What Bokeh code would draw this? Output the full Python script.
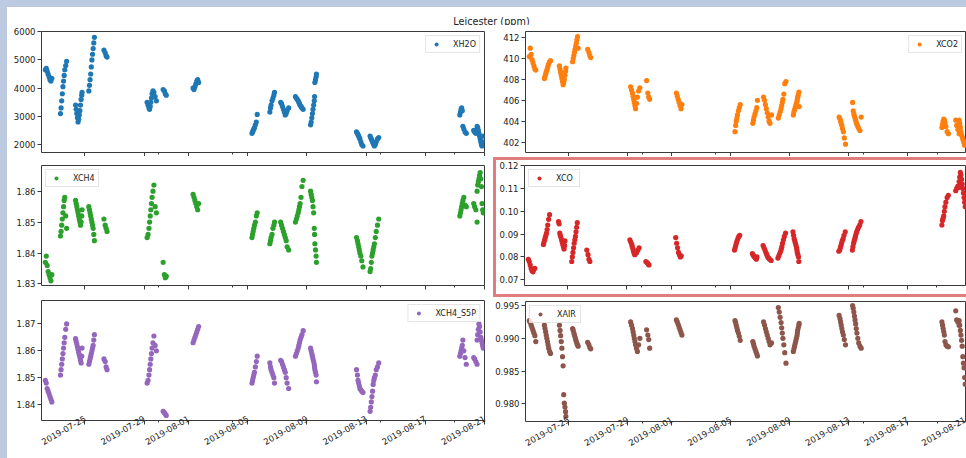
import math
import pandas as pd
from bokeh.plotting import figure
from bokeh.layouts import column, row
from bokeh.models import (Range1d, FixedTicker, PrintfTickFormatter, DatetimeTickFormatter,
                          Legend, LegendItem, Label, Spacer)
from bokeh.embed import file_html
from bokeh.resources import INLINE

FONT = "DejaVu Sans"

# ---------------- data ----------------
title_text = "Leicester (ppm)"
x_start = "2019-07-22 01:45"
x_end = "2019-08-21 00:01"
x_major_ticks = ["2019-07-25", "2019-07-29", "2019-08-01", "2019-08-05",
                 "2019-08-09", "2019-08-13", "2019-08-17", "2019-08-21"]
x_minor_ticks = ["2019-07-30", "2019-08-04", "2019-08-14", "2019-08-19"]

cluster_days = ["2019-07-22", "2019-07-23", "2019-07-24", "2019-07-25", "2019-07-26",
                "2019-07-29", "2019-07-30", "2019-08-01", "2019-08-05", "2019-08-06",
                "2019-08-07", "2019-08-08", "2019-08-09", "2019-08-12", "2019-08-13",
                "2019-08-19", "2019-08-20", "2019-08-20"]
cluster_hours = [
    [8.0, 9.5, 11.0, 12.5, 14.0, 15.5, 17.0, 18.5],
    [8.5, 9.5, 10.5, 11.5, 12.5, 13.5, 14.5, 15.5, 17.0, 18.5],
    [9.0, 10.0, 11.0, 12.0, 13.0, 14.0, 15.0, 16.0, 17.0, 18.0, 19.0, 19.5],
    [6.5, 7.5, 8.5, 9.5, 10.5, 11.5, 12.5, 13.5, 14.5, 15.5],
    [7.0, 9.0, 10.5, 12.0],
    [5.0, 6.5, 8.0, 9.0, 10.0, 11.0, 12.0, 13.0, 14.5, 16.0, 18.0, 20.0],
    [7.0, 9.0, 10.5, 12.0],
    [7.5, 9.0, 10.5, 12.0, 13.5, 15.0, 16.5],
    [7.0, 8.0, 9.0, 10.0, 11.0, 12.5, 14.0, 15.5],
    [12.0, 13.0, 14.0, 15.5, 17.0, 18.5, 19.5],
    [5.5, 7.0, 8.5, 10.0, 11.5, 13.0, 14.5, 16.0, 18.5],
    [5.5, 7.0, 8.5, 10.0, 11.0, 12.0, 13.0, 14.5, 16.0, 18.0],
    [6.0, 7.0, 8.0, 9.0, 10.0, 11.0, 12.0, 12.5, 13.0, 14.0, 15.0, 15.5],
    [8.5, 10.0, 11.0, 12.0, 13.0, 14.0, 15.5, 17.0, 19.0],
    [6.5, 7.5, 8.5, 9.5, 10.5, 11.5, 12.5, 13.5, 15.0, 16.5, 18.5, 20.5],
    [8.0, 9.0, 10.0, 11.0, 12.0, 13.0, 14.5, 16.5, 18.5],
    [6.5, 8.0, 10.0, 12.0],
    [12.0, 13.0, 14.0, 15.0, 16.0, 17.0, 18.0, 19.0, 20.0, 21.0, 22.0],
]

xh2o = [
    [4650, 4700, 4600, 4500, 4400, 4300, 4250, 4350],
    [3100, 3300, 3550, 3800, 4050, 4250, 4450, 4650, 4800, 4950],
    [3400, 3250, 3100, 2950, 2800, 2900, 3050, 3200, 3400, 3600, 3750, 3850],
    [3900, 4100, 4300, 4500, 4750, 5000, 5200, 5400, 5600, 5800],
    [5350, 5250, 5150, 5100],
    [3500, 3400, 3300, 3250, 3350, 3500, 3650, 3800, 3900, 3850, 3700, 3550],
    [3950, 3900, 3800, 3750],
    [4000, 3950, 4050, 4150, 4250, 4300, 4200],
    [2400, 2450, 2500, 2550, 2600, 2700, 2800, 3070],
    [3150, 3300, 3400, 3550, 3650, 3750, 3850],
    [3500, 3450, 3350, 3250, 3150, 3050, 3100, 3200, 3300],
    [3700, 3650, 3600, 3550, 3500, 3450, 3400, 3350, 3300, 3250],
    [2700, 2800, 2950, 3100, 3250, 3400, 3550, 3700, 4200, 4300, 4400, 4500],
    [2450, 2400, 2350, 2300, 2250, 2200, 2100, 2000, 1950],
    [2300, 2250, 2200, 2150, 2100, 2050, 2000, 1950, 2000, 2100, 2200, 2250],
    [3050, 3150, 3250, 3300, 3200, 2650, 2550, 2450, 2400],
    [2500, 2450, 2400, 2450],
    [2650, 2600, 2500, 2400, 2300, 2200, 2100, 2000, 1950, 2100, 2300],
]
xco2 = [
    [410.2, 411.0, 410.4, 409.9, 409.6, 409.3, 409.0, 408.9],
    [408.1, 408.3, 408.5, 408.7, 408.9, 409.1, 409.3, 409.5, 409.7, 409.8],
    [409.3, 409.0, 408.7, 408.4, 408.1, 407.8, 407.5, 407.7, 408.0, 408.4, 408.8, 409.1],
    [409.7, 410.0, 410.3, 410.6, 410.9, 411.2, 411.5, 411.8, 412.1, 411.0],
    [410.9, 410.6, 410.3, 410.1],
    [407.3, 407.0, 406.7, 406.4, 406.1, 405.8, 405.5, 405.2, 405.7, 406.3, 406.9, 407.2],
    [407.9, 406.7, 406.3, 406.1],
    [406.7, 406.4, 406.1, 405.8, 405.5, 405.2, 405.6],
    [403.0, 403.6, 404.0, 404.3, 404.6, 405.0, 405.3, 405.6],
    [403.8, 404.1, 404.4, 404.7, 405.0, 405.3, 406.0],
    [406.3, 406.0, 405.6, 405.2, 404.8, 404.4, 404.0, 403.8, 404.6],
    [404.3, 404.6, 404.9, 405.2, 405.5, 405.8, 406.1, 406.6, 407.6, 407.8],
    [404.6, 404.9, 405.1, 405.3, 405.5, 405.7, 405.9, 406.1, 406.3, 406.5, 406.8, 405.4],
    [404.4, 404.2, 404.0, 403.8, 403.6, 403.3, 403.0, 402.4, 401.8],
    [405.8, 405.0, 404.7, 404.5, 404.3, 404.1, 403.9, 403.7, 403.5, 403.3, 403.1, 404.4],
    [403.4, 403.7, 404.0, 404.2, 404.1, 403.9, 403.5, 403.0, 402.8],
    [404.1, 403.6, 403.2, 402.8],
    [404.1, 403.8, 403.4, 403.0, 402.7, 402.5, 402.3, 402.1, 401.9, 401.7, 402.0],
]
xch4 = [
    [1.837, 1.839, 1.836, 1.834, 1.833, 1.832, 1.831, 1.833],
    [1.8455, 1.847, 1.849, 1.851, 1.853, 1.855, 1.857, 1.858, 1.852, 1.848],
    [1.857, 1.856, 1.855, 1.854, 1.853, 1.852, 1.851, 1.850, 1.849, 1.850, 1.852, 1.854],
    [1.855, 1.854, 1.853, 1.852, 1.851, 1.850, 1.849, 1.848, 1.846, 1.844],
    [1.851, 1.849, 1.848, 1.847],
    [1.845, 1.846, 1.848, 1.850, 1.852, 1.854, 1.856, 1.858, 1.860, 1.862, 1.855, 1.853],
    [1.837, 1.833, 1.832, 1.8325],
    [1.859, 1.858, 1.857, 1.856, 1.855, 1.854, 1.856],
    [1.845, 1.846, 1.847, 1.848, 1.849, 1.850, 1.852, 1.853],
    [1.843, 1.844, 1.845, 1.846, 1.848, 1.849, 1.850],
    [1.850, 1.849, 1.848, 1.847, 1.846, 1.845, 1.844, 1.842, 1.841],
    [1.850, 1.851, 1.852, 1.853, 1.854, 1.855, 1.856, 1.858, 1.8615, 1.8635],
    [1.860, 1.859, 1.858, 1.857, 1.855, 1.853, 1.848, 1.846, 1.843, 1.841, 1.839, 1.837],
    [1.845, 1.844, 1.843, 1.842, 1.841, 1.840, 1.839, 1.8375, 1.8355],
    [1.834, 1.835, 1.837, 1.839, 1.840, 1.841, 1.842, 1.843, 1.845, 1.847, 1.849, 1.851],
    [1.852, 1.853, 1.854, 1.855, 1.856, 1.857, 1.858, 1.8555, 1.855],
    [1.856, 1.855, 1.854, 1.850],
    [1.860, 1.862, 1.863, 1.864, 1.865, 1.866, 1.864, 1.8615, 1.856, 1.854, 1.853],
]
xco = [
    [0.0790, 0.0780, 0.0765, 0.0750, 0.0740, 0.0735, 0.0745, 0.0750],
    [0.0855, 0.0865, 0.0875, 0.0885, 0.0895, 0.0905, 0.0920, 0.0940, 0.0965, 0.0985],
    [0.0955, 0.0945, 0.0905, 0.0895, 0.0885, 0.0875, 0.0865, 0.0855, 0.0845, 0.0835, 0.0850, 0.0870],
    [0.0780, 0.0800, 0.0820, 0.0840, 0.0860, 0.0875, 0.0890, 0.0910, 0.0930, 0.0950],
    [0.0830, 0.0810, 0.0790, 0.0780],
    [0.0875, 0.0865, 0.0855, 0.0845, 0.0835, 0.0825, 0.0815, 0.0810, 0.0815, 0.0820, 0.0830, 0.0840],
    [0.0780, 0.0775, 0.0770, 0.0765],
    [0.0885, 0.0860, 0.0840, 0.0820, 0.0810, 0.0800, 0.0805],
    [0.0830, 0.0840, 0.0850, 0.0860, 0.0870, 0.0880, 0.0890, 0.0895],
    [0.0815, 0.0810, 0.0805, 0.0800, 0.0795, 0.0790, 0.0800],
    [0.0850, 0.0840, 0.0830, 0.0820, 0.0810, 0.0800, 0.0795, 0.0790, 0.0785],
    [0.0795, 0.0805, 0.0815, 0.0825, 0.0835, 0.0845, 0.0860, 0.0875, 0.0890, 0.0905],
    [0.0910, 0.0895, 0.0880, 0.0870, 0.0860, 0.0850, 0.0840, 0.0830, 0.0820, 0.0810, 0.0800, 0.0780],
    [0.0825, 0.0830, 0.0840, 0.0850, 0.0860, 0.0870, 0.0880, 0.0895, 0.0910],
    [0.0830, 0.0845, 0.0860, 0.0870, 0.0880, 0.0890, 0.0900, 0.0910, 0.0920, 0.0930, 0.0940, 0.0955],
    [0.0940, 0.0960, 0.0970, 0.0980, 0.1000, 0.1020, 0.1040, 0.1060, 0.1070],
    [0.1090, 0.1100, 0.1110, 0.1105],
    [0.1130, 0.1150, 0.1170, 0.1160, 0.1140, 0.1120, 0.1100, 0.1080, 0.1060, 0.1040, 0.1020],
]
xch4_s5p = [
    [1.849, 1.848, 1.846, 1.845, 1.844, 1.843, 1.842, 1.841],
    [1.851, 1.853, 1.855, 1.857, 1.859, 1.861, 1.863, 1.865, 1.868, 1.870],
    [1.8645, 1.8635, 1.8625, 1.8615, 1.8605, 1.8595, 1.8585, 1.8575, 1.8565, 1.8555, 1.8580, 1.8610],
    [1.855, 1.856, 1.857, 1.858, 1.859, 1.860, 1.861, 1.862, 1.864, 1.866],
    [1.857, 1.856, 1.854, 1.853],
    [1.848, 1.849, 1.851, 1.853, 1.855, 1.857, 1.859, 1.861, 1.863, 1.8655, 1.862, 1.860],
    [1.8375, 1.8370, 1.8365, 1.8360],
    [1.863, 1.864, 1.865, 1.866, 1.867, 1.868, 1.869],
    [1.848, 1.849, 1.850, 1.851, 1.852, 1.854, 1.856, 1.858],
    [1.8555, 1.854, 1.853, 1.852, 1.851, 1.850, 1.848],
    [1.8565, 1.856, 1.855, 1.854, 1.853, 1.852, 1.850, 1.848, 1.846],
    [1.858, 1.859, 1.860, 1.861, 1.862, 1.863, 1.864, 1.865, 1.866, 1.8675],
    [1.861, 1.860, 1.859, 1.858, 1.857, 1.856, 1.855, 1.854, 1.853, 1.852, 1.851, 1.8485],
    [1.853, 1.851, 1.849, 1.848, 1.847, 1.846, 1.8455, 1.845, 1.8445],
    [1.8375, 1.839, 1.841, 1.843, 1.845, 1.8475, 1.849, 1.850, 1.851, 1.853, 1.854, 1.8555],
    [1.858, 1.859, 1.860, 1.861, 1.862, 1.864, 1.860, 1.8575, 1.855],
    [1.8575, 1.857, 1.856, 1.855],
    [1.864, 1.866, 1.868, 1.870, 1.869, 1.867, 1.865, 1.864, 1.863, 1.862, 1.861],
]
xair = [
    [0.9927, 0.9924, 0.9920, 0.9916, 0.9912, 0.9908, 0.9904, 0.9895],
    [0.9920, 0.9915, 0.9910, 0.9905, 0.9900, 0.9895, 0.9890, 0.9885, 0.9880, 0.9877],
    [0.9920, 0.9912, 0.9904, 0.9895, 0.9885, 0.9872, 0.9858, 0.9814, 0.9801, 0.9795, 0.9788, 0.9781],
    [0.9915, 0.9912, 0.9908, 0.9905, 0.9902, 0.9898, 0.9895, 0.9892, 0.9890, 0.9888],
    [0.9894, 0.9890, 0.9886, 0.9884],
    [0.9925, 0.9920, 0.9915, 0.9910, 0.9905, 0.9900, 0.9895, 0.9890, 0.9885, 0.9880, 0.9890, 0.9900],
    [0.9913, 0.9905, 0.9898, 0.9885],
    [0.9928, 0.9925, 0.9921, 0.9917, 0.9913, 0.9909, 0.9905],
    [0.9927, 0.9924, 0.9920, 0.9916, 0.9912, 0.9908, 0.9903, 0.9897],
    [0.9895, 0.9892, 0.9888, 0.9884, 0.9880, 0.9876, 0.9873],
    [0.9925, 0.9920, 0.9915, 0.9910, 0.9905, 0.9900, 0.9895, 0.9890, 0.9893],
    [0.9947, 0.9940, 0.9932, 0.9924, 0.9916, 0.9908, 0.9900, 0.9890, 0.9878, 0.9862],
    [0.9880, 0.9884, 0.9888, 0.9892, 0.9896, 0.9900, 0.9904, 0.9908, 0.9912, 0.9916, 0.9920, 0.9923],
    [0.9935, 0.9930, 0.9925, 0.9920, 0.9915, 0.9910, 0.9905, 0.9898, 0.9890],
    [0.9950, 0.9946, 0.9940, 0.9934, 0.9928, 0.9922, 0.9915, 0.9908, 0.9900, 0.9893, 0.9888, 0.9885],
    [0.9925, 0.9920, 0.9915, 0.9910, 0.9905, 0.9895, 0.9890, 0.9888, 0.9887],
    [0.9942, 0.9928, 0.9925, 0.9920],
    [0.9927, 0.9920, 0.9912, 0.9905, 0.9897, 0.9888, 0.9872, 0.9862, 0.9855, 0.9840, 0.9830],
]

series_names = ["XH2O", "XCO2", "XCH4", "XCO", "XCH4_S5P", "XAIR"]
series_colors = ["#1f77b4", "#ff7f0e", "#2ca02c", "#d62728", "#9467bd", "#8c564b"]
series_values = [xh2o, xco2, xch4, xco, xch4_s5p, xair]
y_limits = [(1720, 6005), (401.0, 412.6), (1.8295, 1.8683),
            (0.0675, 0.12005), (1.8341, 1.8787), (0.9773, 0.99562)]
y_ticks = [[2000, 3000, 4000, 5000, 6000],
           [402, 404, 406, 408, 410, 412],
           [1.83, 1.84, 1.85, 1.86],
           [0.07, 0.08, 0.09, 0.10, 0.11, 0.12],
           [1.84, 1.85, 1.86, 1.87],
           [0.980, 0.985, 0.990, 0.995]]
y_formats = ["%d", "%d", "%.2f", "%.2f", "%.2f", "%.3f"]
legend_corner = ["top_right", "top_right", "top_left", "top_left", "top_right", "top_left"]

# ---------------- build ----------------
times = []
for day, hrs in zip(cluster_days, cluster_hours):
    for h in hrs:
        times.append(pd.Timestamp(day) + pd.Timedelta(hours=h))


def flat(nested):
    for grp, hrs in zip(nested, cluster_hours):
        assert len(grp) == len(hrs)
    return [v for grp in nested for v in grp]


def ms(s):
    return pd.Timestamp(s).value / 1e6


x_range = Range1d(start=pd.Timestamp(x_start), end=pd.Timestamp(x_end))
fmt = "%Y-%m-%d"
date_fmt = DatetimeTickFormatter(microseconds=fmt, milliseconds=fmt, seconds=fmt, minsec=fmt,
                                 minutes=fmt, hourmin=fmt, hours=fmt, days=fmt, months=fmt, years=fmt)

AX_COLOR = "#3a3a3a"
BLUE = "#bccbe2"
RED = "#e27d7d"

# geometry of each panel: (width, height, border left, right, top, bottom)
GEOM = [
    (485, 131, 34, 8, 6, 4),   # XH2O
    (474, 131, 31, 0, 6, 4),   # XCO2
    (485, 142, 34, 8, 9, 13),  # XCH4
    (470, 134, 27, 0, 5, 9),   # XCO (inside the highlight frame)
    (485, 160, 34, 8, 2, 38),  # XCH4_S5P
    (474, 160, 31, 0, 3, 37),  # XAIR
]


def swatch(w, h, color=None):
    if color is None:
        return Spacer(width=w, height=h)
    return Spacer(width=w, height=h, styles={"background-color": color})


def make_panel(i):
    r_idx = i // 2
    w, h, bl, br, bt, bb = GEOM[i]
    p = figure(width=w, height=h, x_axis_type="datetime", title=None,
               x_range=x_range, y_range=Range1d(*y_limits[i]),
               output_backend="svg", toolbar_location=None, min_border=0,
               min_border_left=bl, min_border_right=br,
               min_border_top=bt, min_border_bottom=bb)
    p.background_fill_color = "white"
    p.border_fill_color = "white"
    p.outline_line_color = AX_COLOR
    p.outline_line_width = 1
    p.xgrid.visible = False
    p.ygrid.visible = False

    xa = p.xaxis[0]
    xa.ticker = FixedTicker(ticks=[ms(t) for t in x_major_ticks],
                            minor_ticks=[ms(t) for t in x_minor_ticks])
    xa.formatter = date_fmt
    xa.axis_line_color = None
    xa.major_tick_line_color = AX_COLOR
    xa.minor_tick_line_color = AX_COLOR
    xa.major_tick_out = 4
    xa.major_tick_in = 0
    xa.minor_tick_out = 2
    xa.minor_tick_in = 0
    if r_idx < 2:
        xa.major_label_text_font_size = "0px"
        xa.major_label_text_color = None
        xa.major_label_standoff = 0
    else:
        xa.major_label_text_font_size = "8.5px"
        xa.major_label_text_font = FONT
        xa.major_label_text_color = "#222222"
        xa.major_label_orientation = math.pi / 6
        xa.major_label_standoff = -7

    ya = p.yaxis[0]
    ya.ticker = FixedTicker(ticks=y_ticks[i])
    ya.formatter = PrintfTickFormatter(format=y_formats[i])
    ya.axis_line_color = None
    ya.major_tick_line_color = AX_COLOR
    ya.minor_tick_line_color = None
    ya.major_tick_out = 4
    ya.major_tick_in = 0
    ya.major_label_text_font_size = "8.5px"
    ya.major_label_text_font = FONT
    ya.major_label_text_color = "#222222"
    ya.major_label_standoff = 2

    r = p.scatter(x=times, y=flat(series_values[i]), size=5.2,
                  fill_color=series_colors[i], line_color=None)
    legend = Legend(items=[LegendItem(label=series_names[i], renderers=[r])],
                    location=legend_corner[i], margin=4, padding=3, spacing=0,
                    glyph_width=14, glyph_height=10, label_standoff=10, label_height=10,
                    label_text_font_size="8px", label_text_font=FONT,
                    label_text_color="#222222",
                    border_line_color="#cccccc", border_line_width=1,
                    background_fill_color="white", background_fill_alpha=0.8)
    p.add_layout(legend)
    return p


panels = [make_panel(i) for i in range(6)]

# figure title
tfig = figure(width=959, height=18, x_range=Range1d(0, 959), y_range=Range1d(0, 18),
              x_axis_type=None, y_axis_type=None, title=None, output_backend="svg",
              toolbar_location=None, min_border=0)
tfig.outline_line_color = None
tfig.xgrid.visible = False
tfig.ygrid.visible = False
tfig.add_layout(Label(x=484, y=4.5, text=title_text, text_align="center",
                      text_baseline="middle", text_font=FONT, text_font_size="9.7px",
                      text_color="#222222"))

# red highlight frame around the XCO panel (its right side runs past the window)
red_top = column(swatch(474, 1), row(swatch(1, 3), swatch(473, 3, RED)))
red_left = row(swatch(1, 134), swatch(3, 134, RED))
red_bottom = column(row(swatch(1, 3), swatch(473, 3, RED)), swatch(474, 1))

left_col = column(panels[0], panels[2], panels[4])
right_col = column(panels[1], red_top, row(red_left, panels[3]), red_bottom, panels[5])
main = column(tfig, row(left_col, right_col))

# light blue window edge (top and left)
layout = column(swatch(966, 7, BLUE), row(swatch(7, 451, BLUE), main))

open("out.html", "w").write(file_html(layout, INLINE))
